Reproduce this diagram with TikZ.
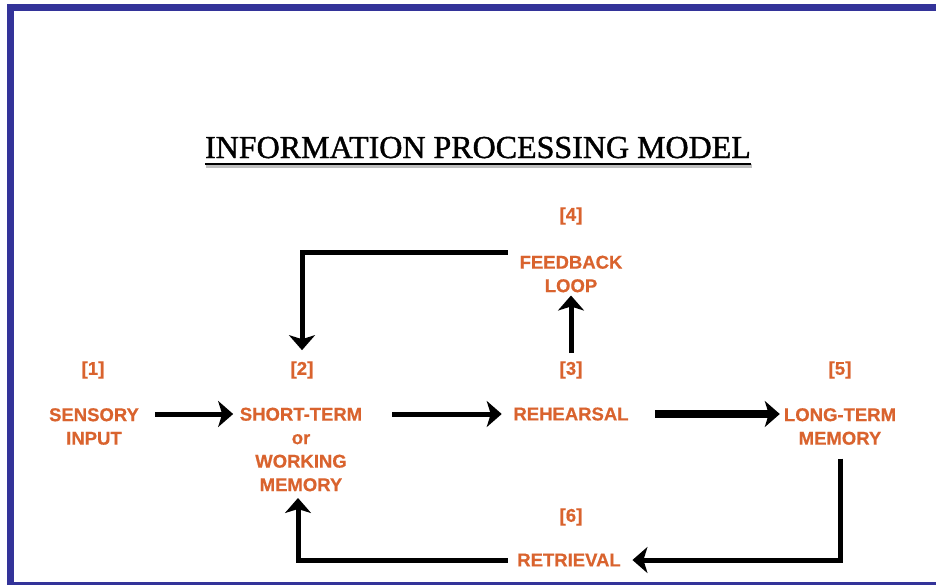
\documentclass[tikz,border=0pt]{standalone}
\usepackage{fontspec}
\setmainfont{Liberation Serif}
\newfontfamily\headfont[FakeBold=1.2]{Liberation Serif}
\newfontfamily\lblfont[BoldFeatures={FakeBold=0.6}]{Liberation Sans}
\usetikzlibrary{arrows.meta,calc}
\definecolor{frameblue}{RGB}{51,51,153}
\definecolor{stageorange}{RGB}{217,99,46}
\begin{document}
\begin{tikzpicture}[x=1pt,y=-1pt,
  stage/.style={inner sep=0pt, align=center, text=stageorange,
    font=\lblfont\bfseries\fontsize{18.5}{23.5}\selectfont},
  arr/.style={draw=black, line width=5pt,
    -{Stealth[length=15pt,width=26pt,inset=4pt]}},
  arrthick/.style={arr, line width=7.5pt},
  titlefont/.style={font=\headfont\fontsize{32}{36}\selectfont}
]
\useasboundingbox (0,0) rectangle (936,584);
\clip (0,0) rectangle (936,584);

% page frame (open on the right)
\draw[frameblue, line width=7pt] (10.5,600) -- (10.5,7.5) -- (950,7.5);
\draw[frameblue, line width=7pt] (10.5,585) -- (950,585);

% title with shadowed underline
\node[titlefont, inner sep=0pt, anchor=base] (title) at (478,158)
  {INFORMATION PROCESSING MODEL};
\draw[gray!50, line width=3.5pt]
  ($(title.south west)+(1,7.5)$) -- ($(title.south east)+(1,7.5)$);
\draw[black, line width=2pt]
  ($(title.south west)+(0,5)$) -- ($(title.south east)+(0,5)$);

% stage numbers
\node[stage] (n1) at (93,370) {[1]};
\node[stage] (n2) at (302,370) {[2]};
\node[stage] (n3) at (571,370) {[3]};
\node[stage] (n4) at (571,216) {[4]};
\node[stage] (n5) at (840,370) {[5]};
\node[stage] (n6) at (571,517) {[6]};

% stages
\node[stage] (sens) at (94,426.5) {SENSORY\\INPUT};
\node[stage] (stm) at (301,449.5) {SHORT-TERM\\or\\WORKING\\MEMORY};
\node[stage] (reh) at (571,414) {REHEARSAL};
\node[stage] (fb) at (571,274) {FEEDBACK\\LOOP};
\node[stage] (ltm) at (840,426.5) {LONG-TERM\\MEMORY};
\node[stage] (ret) at (569,560) {RETRIEVAL};

% flow
\draw[arr, shorten <=16pt, shorten >=6.5pt] (sens.east |- reh) -- (stm.west |- reh);
\draw[arr, shorten <=30pt, shorten >=11.5pt] (stm.east |- reh) -- (reh.west);
\draw[arrthick, shorten <=26.5pt, shorten >=4pt] (reh.east) -- (ltm.west |- reh);
\draw[arr, shorten <=8pt, shorten >=3pt] (n3.north) -- (fb.south);
\draw[arr, shorten <=11.5pt, shorten >=11pt] ($(fb.north west)+(0,-3)$) -| (n2.north);
\draw[arr, shorten <=13.5pt, shorten >=11.5pt] (ltm.south) |- (ret.east);
\draw[arr, shorten <=9.5pt, shorten >=6.5pt] (ret.west) -| ($(stm.south)+(-3,0)$);
\end{tikzpicture}
\end{document}
